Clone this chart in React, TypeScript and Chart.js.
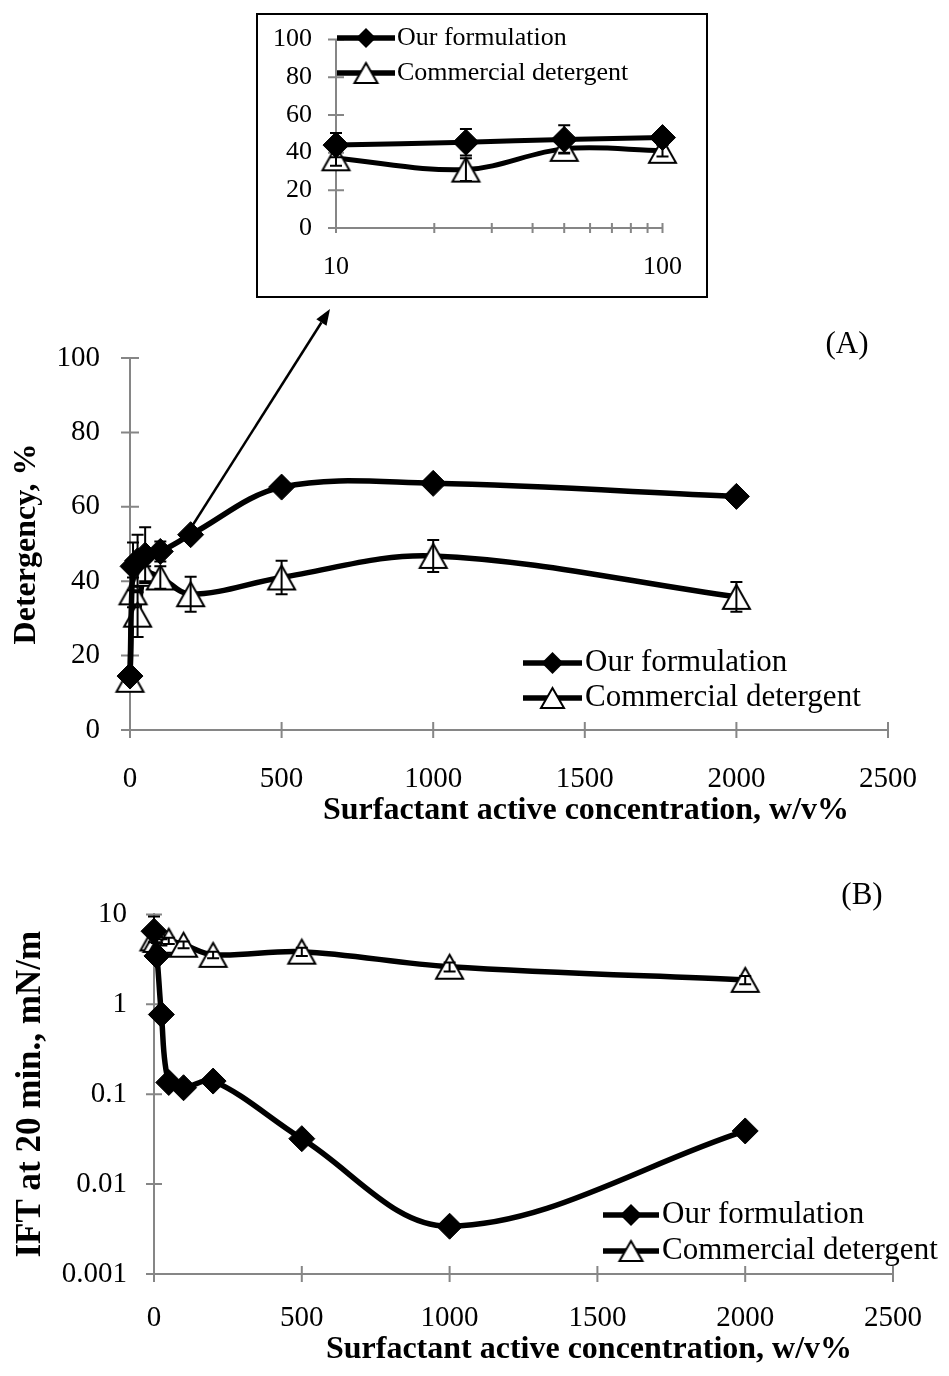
import React, { useEffect, useRef } from 'react';
import { Chart, registerables } from 'chart.js';
Chart.register(...registerables);

// ---------------- data ----------------
const concentration = [0, 10, 25, 50, 100, 200, 500, 1000, 2000];
const detergencyOur = [14.5, 44, 45.5, 47, 48, 52.5, 65.3, 66.3, 62.8];
const detergencyOurErr = [0, 6.4, 7, 7.5, 2.7, 0, 0, 0, 0];
const detergencyCom = [13.5, 37, 31, 42, 41, 36.5, 41, 46.8, 35.8];
const detergencyComErr = [0, 4, 6, 2, 3, 4.7, 4.5, 4.3, 4];
const iftOur = [6.5, 3.45, 0.77, 0.135, 0.118, 0.14, 0.032, 0.0034, 0.039];
const iftOurErr = [3, 0, 0, 0, 0, 0, 0, 0, 0];
const iftCom = [5.4, 5.2, 4.9, 5.1, 4.6, 3.55, 3.85, 2.62, 1.87];
const iftComErr = [0.5, 0.4, 0.4, 0.4, 0.4, 0.3, 0.4, 0.3, 0.2];

const seriesNames = ['Our formulation', 'Commercial detergent'];
const xTicksMain = [0, 500, 1000, 1500, 2000, 2500];
const yTicksDetergency = [0, 20, 40, 60, 80, 100];
const yTicksIft = [0.001, 0.01, 0.1, 1, 10];
const xTicksInset = [10, 20, 30, 40, 50, 60, 70, 80, 90, 100];
const xLabelsInset = [10, 100];
const yTicksInset = [0, 20, 40, 60, 80, 100];
const xTitle = 'Surfactant active concentration, w/v%';
const yTitleA = 'Detergency, %';
const yTitleB = 'IFT at 20 min., mN/m';
const panelA = '(A)';
const panelB = '(B)';

// ---------------- styling ----------------
const FONT = 'Liberation Serif';
const AXIS = '#868686';

function pts(xs: number[], ys: number[]) {
  return xs.map((x, i) => ({ x, y: ys[i] }));
}

function makeTriangle(w: number, h: number) {
  const pad = 3;
  const c = document.createElement('canvas');
  c.width = w + pad * 2;
  c.height = h + pad * 2;
  const g = c.getContext('2d')!;
  g.beginPath();
  g.moveTo(c.width / 2, pad);
  g.lineTo(pad + w, pad + h);
  g.lineTo(pad, pad + h);
  g.closePath();
  g.fillStyle = '#fff';
  g.fill();
  g.lineWidth = 2;
  g.lineJoin = 'miter';
  g.strokeStyle = '#000';
  g.stroke();
  return c;
}

type Decor = {
  xTick: number;
  yTick: number;
  cap: number;
  legend: { x0: number; x1: number; tx: number; rows: number[]; font: number; lw: number; r: number };
  texts: { t: string; x: number; y: number; font: string }[];
};

function makeDecor(d: Decor, tri: HTMLCanvasElement) {
  return {
    id: 'decor',
    beforeDatasetsDraw(chart: any) {
      const ctx = chart.ctx;
      const xs = chart.scales.x;
      const ys = chart.scales.y;
      ctx.save();
      ctx.strokeStyle = AXIS;
      ctx.lineWidth = 2;
      ctx.beginPath();
      xs.ticks.forEach((t: any) => {
        const p = xs.getPixelForValue(t.value);
        ctx.moveTo(p, xs.top - d.xTick);
        ctx.lineTo(p, xs.top + d.xTick);
      });
      ys.ticks.forEach((t: any) => {
        const p = ys.getPixelForValue(t.value);
        ctx.moveTo(ys.right - d.yTick, p);
        ctx.lineTo(ys.right + d.yTick, p);
      });
      ctx.stroke();
      ctx.restore();
    },
    afterDatasetsDraw(chart: any) {
      const ctx = chart.ctx;
      const ys = chart.scales.y;
      ctx.save();
      ctx.strokeStyle = '#000';
      ctx.lineWidth = 2;
      ctx.beginPath();
      chart.data.datasets.forEach((ds: any, i: number) => {
        if (!ds.errors) return;
        const meta = chart.getDatasetMeta(i);
        meta.data.forEach((el: any, j: number) => {
          const e = ds.errors[j];
          if (!e) return;
          const v = ds.data[j].y;
          let lo = v - e;
          if (ys.type === 'logarithmic' && lo <= ys.min) lo = ys.min;
          const yt = ys.getPixelForValue(v + e);
          const yb = ys.getPixelForValue(lo);
          ctx.moveTo(el.x, yt);
          ctx.lineTo(el.x, yb);
          ctx.moveTo(el.x - d.cap, yt);
          ctx.lineTo(el.x + d.cap, yt);
          ctx.moveTo(el.x - d.cap, yb);
          ctx.lineTo(el.x + d.cap, yb);
        });
      });
      ctx.stroke();
      ctx.restore();
    },
    afterDraw(chart: any) {
      const ctx = chart.ctx;
      const L = d.legend;
      ctx.save();
      L.rows.forEach((y, i) => {
        ctx.strokeStyle = '#000';
        ctx.lineWidth = L.lw;
        ctx.beginPath();
        ctx.moveTo(L.x0, y);
        ctx.lineTo(L.x1, y);
        ctx.stroke();
        const cx = (L.x0 + L.x1) / 2;
        if (i === 0) {
          ctx.fillStyle = '#000';
          ctx.beginPath();
          ctx.moveTo(cx - L.r, y);
          ctx.lineTo(cx, y - L.r);
          ctx.lineTo(cx + L.r, y);
          ctx.lineTo(cx, y + L.r);
          ctx.closePath();
          ctx.fill();
        } else {
          ctx.drawImage(tri, cx - tri.width / 2, y - tri.height / 2);
        }
        ctx.fillStyle = '#000';
        ctx.font = `${L.font}px "${FONT}"`;
        ctx.textBaseline = 'middle';
        ctx.textAlign = 'left';
        ctx.fillText(seriesNames[i], L.tx, y);
      });
      d.texts.forEach((t) => {
        ctx.fillStyle = '#000';
        ctx.font = t.font;
        ctx.textBaseline = 'middle';
        ctx.textAlign = 'center';
        ctx.fillText(t.t, t.x, t.y);
      });
      ctx.restore();
    },
  };
}

function lineDs(label: string, data: any[], errors: number[], diamond: boolean, tri: HTMLCanvasElement, lw: number) {
  return {
    label,
    data,
    errors,
    borderColor: '#000',
    borderWidth: lw,
    tension: 0.35,
    clip: false,
    fill: false,
    pointStyle: diamond ? 'rectRot' : tri,
    pointRadius: 13,
    pointBackgroundColor: '#000',
    pointBorderColor: '#000',
    pointBorderWidth: 1,
  };
}

function scaleOpts(o: {
  type: string;
  min: number;
  max: number;
  ticks: number[];
  labels?: number[];
  size: number;
  padding: number;
  fit: (s: any) => void;
  title?: { text: string; pad: number; size: number };
}) {
  return {
    type: o.type,
    min: o.min,
    max: o.max,
    afterBuildTicks: (s: any) => {
      s.ticks = o.ticks.map((v) => ({ value: v }));
    },
    afterFit: o.fit,
    grid: { display: false, drawTicks: false },
    border: { display: true, color: AXIS, width: 2 },
    ticks: {
      padding: o.padding,
      color: '#000',
      font: { family: FONT, size: o.size },
      maxRotation: 0,
      autoSkip: false,
      callback: (v: number) => (o.labels ? (o.labels.includes(v) ? String(v) : '') : String(v)),
    },
    title: o.title
      ? {
          display: true,
          text: o.title.text,
          color: '#000',
          font: { family: FONT, size: o.title.size, weight: 'bold' },
          padding: { top: o.title.pad, bottom: 0 },
        }
      : { display: false },
  };
}

const baseOptions = (padding: any) => ({
  animation: false,
  responsive: false,
  maintainAspectRatio: false,
  events: [],
  layout: { padding },
  plugins: { legend: { display: false }, tooltip: { enabled: false } },
});

export default function App() {
  const refI = useRef<HTMLCanvasElement>(null);
  const refA = useRef<HTMLCanvasElement>(null);
  const refB = useRef<HTMLCanvasElement>(null);

  useEffect(() => {
    const tri = makeTriangle(27, 24);
    const triLegend = makeTriangle(23, 20);
    const insetIdx = concentration.map((x, i) => i).filter((i) => concentration[i] >= 10 && concentration[i] <= 100);
    const pick = (arr: number[]) => insetIdx.map((i) => arr[i]);
    const insetX = pick(concentration);

    const inset = new Chart(refI.current!, {
      type: 'line',
      data: {
        datasets: [
          lineDs(seriesNames[0], pts(insetX, pick(detergencyOur)), pick(detergencyOurErr), true, tri, 5),
          lineDs(seriesNames[1], pts(insetX, pick(detergencyCom)), pick(detergencyComErr), false, tri, 5),
        ] as any,
      },
      options: {
        ...baseOptions({ left: 0, top: 28, right: 35, bottom: 0 }),
        scales: {
          x: scaleOpts({ type: 'logarithmic', min: 10, max: 100, ticks: xTicksInset, labels: xLabelsInset, size: 26, padding: 24, fit: (s) => { s.height = 68; } }),
          y: scaleOpts({ type: 'linear', min: 0, max: 100, ticks: yTicksInset, size: 26, padding: 24, fit: (s) => { s.width = 78; } }),
        },
      } as any,
      plugins: [
        makeDecor(
          {
            xTick: 5,
            yTick: 8,
            cap: 6,
            legend: { x0: 79, x1: 137, tx: 139, rows: [38, 73], font: 26, lw: 5.5, r: 10 },
            texts: [],
          },
          triLegend
        ) as any,
      ],
    });

    const main = new Chart(refA.current!, {
      type: 'line',
      data: {
        datasets: [
          lineDs(seriesNames[0], pts(concentration, detergencyOur), detergencyOurErr, true, tri, 5.5),
          lineDs(seriesNames[1], pts(concentration, detergencyCom), detergencyComErr, false, tri, 5.5),
        ] as any,
      },
      options: {
        ...baseOptions({ left: 0, top: 58, right: 50, bottom: 0 }),
        scales: {
          x: scaleOpts({ type: 'linear', min: 0, max: 2500, ticks: xTicksMain, size: 29, padding: 32, fit: (s) => { s.height = 110; } }),
          y: scaleOpts({ type: 'linear', min: 0, max: 100, ticks: yTicksDetergency, size: 29, padding: 30, fit: (s) => { s.width = 130; }, title: { text: yTitleA, pad: 8, size: 32 } }),
        },
      } as any,
      plugins: [
        makeDecor(
          {
            xTick: 8,
            yTick: 9,
            cap: 6,
            legend: { x0: 523, x1: 582, tx: 585, rows: [363, 398], font: 31, lw: 5.5, r: 11 },
            texts: [
              { t: xTitle, x: 586, y: 511, font: `bold 32px "${FONT}"` },
              { t: panelA, x: 847, y: 45, font: `31px "${FONT}"` },
            ],
          },
          triLegend
        ) as any,
      ],
    });

    const ift = new Chart(refB.current!, {
      type: 'line',
      data: {
        datasets: [
          lineDs(seriesNames[0], pts(concentration, iftOur), iftOurErr, true, tri, 5.5),
          lineDs(seriesNames[1], pts(concentration, iftCom), iftComErr, false, tri, 5.5),
        ] as any,
      },
      options: {
        ...baseOptions({ left: 0, top: 22, right: 42, bottom: 0 }),
        scales: {
          x: scaleOpts({ type: 'linear', min: 0, max: 2500, ticks: xTicksMain, size: 29, padding: 27, fit: (s) => { s.height = 102; } }),
          y: scaleOpts({ type: 'logarithmic', min: 0.001, max: 10, ticks: yTicksIft, size: 29, padding: 27, fit: (s) => { s.width = 154; }, title: { text: yTitleB, pad: 10, size: 35 } }),
        },
      } as any,
      plugins: [
        makeDecor(
          {
            xTick: 8,
            yTick: 8,
            cap: 6,
            legend: { x0: 603, x1: 659, tx: 662, rows: [345, 381], font: 31, lw: 5.5, r: 11 },
            texts: [
              { t: xTitle, x: 589, y: 480, font: `bold 32px "${FONT}"` },
              { t: panelB, x: 862, y: 26, font: `31px "${FONT}"` },
            ],
          },
          triLegend
        ) as any,
      ],
    });

    return () => {
      inset.destroy();
      main.destroy();
      ift.destroy();
    };
  }, []);

  return (
    <div style={{ position: 'absolute', left: 0, top: 0, width: 949, height: 1376, background: '#fff', overflow: 'hidden' }}>
      <div style={{ position: 'absolute', left: 256, top: 13, width: 452, height: 285, border: '2px solid #000', boxSizing: 'border-box' }} />
      <canvas ref={refI} width={448} height={296} style={{ position: 'absolute', left: 258, top: 0 }} />
      <canvas ref={refA} width={949} height={540} style={{ position: 'absolute', left: 0, top: 300 }} />
      <canvas ref={refB} width={949} height={506} style={{ position: 'absolute', left: 0, top: 870 }} />
      <svg width={949} height={1376} style={{ position: 'absolute', left: 0, top: 0, pointerEvents: 'none' }}>
        <line x1={189} y1={531} x2={321.4} y2={322.5} stroke="#000" strokeWidth={2.5} />
        <polygon points="330,309 326.5,325.7 316.3,319.3" fill="#000" />
      </svg>
    </div>
  );
}
